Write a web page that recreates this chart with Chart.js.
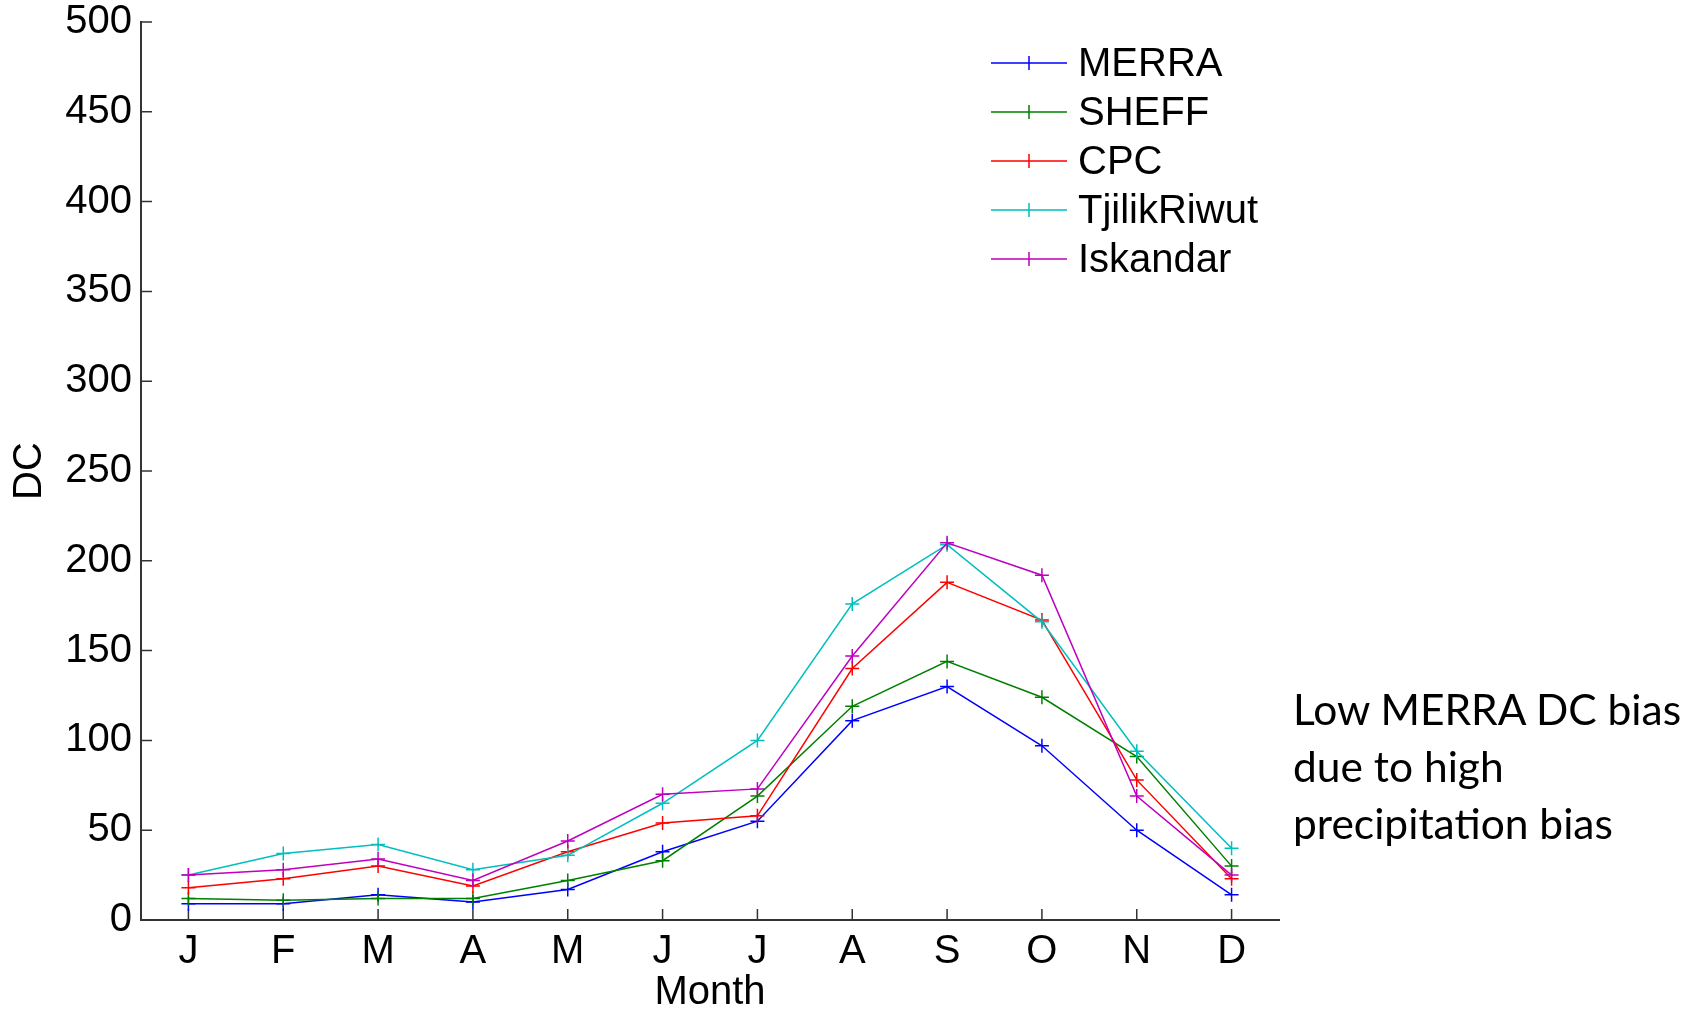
<!DOCTYPE html>
<html>
<head>
<meta charset="utf-8">
<script src="https://cdn.jsdelivr.net/npm/chart.js@4"></script>
<style>
  body { margin: 0; background: #fff; }
  #wrap { position: relative; width: 1699px; height: 1010px; }
  #note {
    position: absolute; left: 1293px; top: 680px;
    font-family: Lato, "Open Sans", sans-serif; font-size: 42.5px; line-height: 57px;
    color: #000; white-space: nowrap;
  }
</style>
</head>
<body>
<div id="wrap">
  <canvas id="dc" width="1699" height="1010"></canvas>
  <div id="note">Low MERRA DC bias<br>due to high<br>precipitation bias</div>
</div>
<script>
var months = ['J', 'F', 'M', 'A', 'M', 'J', 'J', 'A', 'S', 'O', 'N', 'D'];
var seriesNames = ['MERRA', 'SHEFF', 'CPC', 'TjilikRiwut', 'Iskandar'];
var seriesColors = ['#0000ff', '#008000', '#ff0000', '#00bfbf', '#bf00bf'];

var merra = [9, 9, 14, 10, 17, 38, 55, 111, 130, 97, 50, 14];
var sheff = [12, 11, 12, 12, 22, 33, 69, 119, 144, 124, 91, 30];
var cpc = [18, 23, 30, 19, 38, 54, 58, 140, 188, 167, 78, 23];
var tjilik = [25, 37, 42, 28, 36, 65, 100, 176, 209, 166, 94, 40];
var iskandar = [25, 28, 34, 22, 44, 70, 73, 147, 210, 192, 69, 25];

var yMin = 0, yMax = 500, yStep = 50;

Chart.defaults.font.family = '"Liberation Sans", Arial, sans-serif';
Chart.defaults.color = '#000';

var allSeries = [merra, sheff, cpc, tjilik, iskandar];

// matlab style ticks pointing into the plot
var innerTicks = {
    id: 'innerTicks',
    beforeDatasetsDraw: function (chart) {
        var ctx = chart.ctx, area = chart.chartArea;
        var x = chart.scales.x, y = chart.scales.y;
        var len = 11;
        ctx.save();
        ctx.strokeStyle = '#333';
        ctx.lineWidth = 1.5;
        ctx.beginPath();
        x.ticks.forEach(function (t, i) {
            var px = x.getPixelForTick(i);
            ctx.moveTo(px, area.bottom);
            ctx.lineTo(px, area.bottom - len);
        });
        y.ticks.forEach(function (t, i) {
            var py = y.getPixelForTick(i);
            ctx.moveTo(area.left, py);
            ctx.lineTo(area.left + len, py);
        });
        ctx.stroke();
        ctx.restore();
    }
};

// legend drawn inside the axes, top right
var boxLegend = {
    id: 'boxLegend',
    afterDraw: function (chart) {
        var ctx = chart.ctx, area = chart.chartArea;
        var x0 = area.right - 288, x1 = area.right - 212;
        var top = area.top + 41, gap = 49;
        ctx.save();
        ctx.font = '40px "Liberation Sans", Arial, sans-serif';
        ctx.textBaseline = 'middle';
        chart.data.datasets.forEach(function (ds, i) {
            var yy = top + i * gap;
            var mid = (x0 + x1) / 2;
            ctx.strokeStyle = ds.borderColor;
            ctx.lineWidth = 1.5;
            ctx.beginPath();
            ctx.moveTo(x0, yy);
            ctx.lineTo(x1, yy);
            ctx.moveTo(mid, yy - 7);
            ctx.lineTo(mid, yy + 7);
            ctx.stroke();
            ctx.fillStyle = '#000';
            ctx.fillText(ds.label, x1 + 11, yy + 2);
        });
        ctx.restore();
    }
};

var datasets = seriesNames.map(function (name, i) {
    return {
        label: name,
        data: allSeries[i],
        borderColor: seriesColors[i],
        backgroundColor: seriesColors[i],
        borderWidth: 1.5,
        pointStyle: 'cross',
        pointRadius: 7,
        pointBorderWidth: 1.5,
        pointHoverRadius: 7,
        tension: 0,
        fill: false,
        order: seriesNames.length - i
    };
});

new Chart(document.getElementById('dc'), {
    type: 'line',
    data: { labels: months, datasets: datasets },
    options: {
        responsive: false,
        animation: false,
        layout: { padding: { top: 22, right: 420, left: 0, bottom: 0 } },
        plugins: {
            legend: { display: false },
            tooltip: { enabled: false }
        },
        scales: {
            x: {
                offset: true,
                grid: { display: true, drawOnChartArea: false, drawTicks: false },
                border: { display: true, color: '#333', width: 2 },
                ticks: {
                    autoSkip: false, maxRotation: 0, padding: 12,
                    font: { size: 40, lineHeight: 1 }
                },
                title: {
                    display: true, text: 'Month',
                    font: { size: 40, lineHeight: 0.85 },
                    padding: { top: 0, bottom: 0 }
                },
                afterFit: function (s) { s.height = 90; }
            },
            y: {
                min: yMin, max: yMax,
                grid: { display: true, drawOnChartArea: false, drawTicks: false },
                border: { display: true, color: '#333', width: 2 },
                ticks: {
                    stepSize: yStep, padding: 9,
                    font: { size: 40, lineHeight: 0.6 }
                },
                title: {
                    display: true, text: 'DC',
                    font: { size: 40, lineHeight: 1 },
                    padding: { top: 10, bottom: 0 }
                },
                afterFit: function (s) { s.width = 141; }
            }
        }
    },
    plugins: [innerTicks, boxLegend]
});
</script>
</body>
</html>
